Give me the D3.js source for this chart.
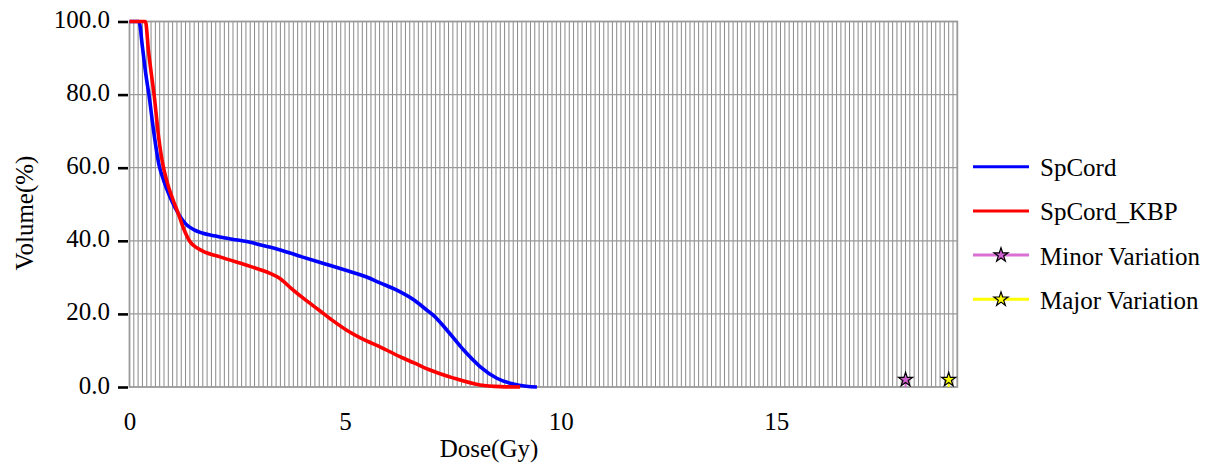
<!DOCTYPE html>
<html>
<head>
<meta charset="utf-8">
<script src="https://cdn.jsdelivr.net/npm/d3@7"></script>
<style>
  html, body { margin: 0; padding: 0; background: #fff; }
  svg { display: block; }
  svg text { font-family: "Liberation Serif", "Times New Roman", Times, serif !important; fill: #000; }
</style>
</head>
<body>
<svg id="chart" width="1224" height="470" font-family="Liberation Serif"></svg>
<script>
// ---- data ----
const seriesNames = ["SpCord", "SpCord_KBP", "Minor Variation", "Major Variation"];
const seriesColors = ["#0000ff", "#ff0000", "#da70d6", "#ffff00"];

const spCordDose = [0, 0.22, 0.3, 0.38, 0.45, 0.56, 0.68, 0.79, 0.94, 1.13, 1.33, 1.5, 2.0, 2.5, 2.8, 3.0, 3.5, 4.0, 4.5, 5.0, 5.5, 5.81, 6.2, 6.6, 6.9, 7.05, 7.36, 7.75, 8.13, 8.52, 8.9, 9.2, 9.45];
const spCordVol  = [100, 100, 93, 85.4, 80, 70, 61, 56.6, 52, 47.5, 44.3, 43, 41.3, 40.2, 39.6, 39.0, 37.5, 35.6, 33.8, 32.0, 30.1, 28.5, 26.5, 23.8, 21, 19.6, 15.6, 10.1, 5.6, 2.4, 0.8, 0.2, 0];

const kbpDose = [0, 0.37, 0.44, 0.51, 0.57, 0.68, 0.78, 0.86, 1.0, 1.13, 1.25, 1.4, 1.6, 2.1, 2.8, 3.26, 3.49, 3.75, 4.03, 4.4, 4.7, 5.03, 5.5, 5.81, 6.27, 6.6, 6.97, 7.5, 8.13, 8.6, 9.06];
const kbpVol  = [100, 100, 92, 85.4, 80, 68, 60.5, 56.6, 51.5, 47.5, 43.5, 39.8, 37.8, 35.6, 33, 31.1, 29.7, 27, 24.3, 21, 18.3, 15.6, 12.6, 11.0, 8.3, 6.6, 4.65, 2.5, 0.55, 0.1, 0];

const minorDose = [18];
const minorVol = [2];
const majorDose = [19];
const majorVol = [2];

const xTickValues = [0, 5, 10, 15];
const yTickValues = [0, 20, 40, 60, 80, 100];
const xTitle = "Dose(Gy)";
const yTitle = "Volume(%)";

// ---- layout ----
const FONT = "'Liberation Serif', 'Times New Roman', serif";
const svg = d3.select("#chart");
const x = d3.scaleLinear().domain([0, 19.2]).range([129.5, 957.3]);
const y = d3.scaleLinear().domain([0, 100]).range([387, 21.5]);
const FS = 25;

// vertical grid every 0.1 Gy
const vGrid = d3.range(1, 192).map(i => i / 10);
svg.append("g").selectAll("line").data(vGrid).join("line")
  .attr("x1", d => x(d)).attr("x2", d => x(d))
  .attr("y1", y(100)).attr("y2", y(0))
  .attr("stroke", "#8a8a8a").attr("stroke-width", 1);

// horizontal grid
svg.append("g").selectAll("line").data([20, 40, 60, 80]).join("line")
  .attr("x1", x(0)).attr("x2", x(19.2))
  .attr("y1", d => y(d)).attr("y2", d => y(d))
  .attr("stroke", "#999").attr("stroke-width", 1.2);

// frame
svg.append("rect")
  .attr("x", x(0)).attr("y", y(100))
  .attr("width", x(19.2) - x(0)).attr("height", y(0) - y(100))
  .attr("fill", "none").attr("stroke", "#999").attr("stroke-width", 1.8);

// y axis
const yAxis = svg.append("g").attr("transform", "translate(128,0)")
  .call(d3.axisLeft(y).tickValues(yTickValues).tickFormat(d3.format(".1f")).tickSize(10).tickPadding(8))
  .attr("font-family", FONT).attr("font-size", FS);
yAxis.select(".domain").remove();
yAxis.selectAll(".tick line").attr("stroke", "#000").attr("stroke-width", 2.6);
yAxis.selectAll(".tick text").attr("dy", "0.24em");

// x axis
const xAxis = svg.append("g").attr("transform", `translate(0,${y(0)})`)
  .call(d3.axisBottom(x).tickValues(xTickValues).tickFormat(d3.format("d")).tickSize(0).tickPadding(25))
  .attr("font-family", FONT).attr("font-size", FS);
xAxis.select(".domain").remove();

// axis titles
svg.append("text").attr("x", 489).attr("y", 457).attr("text-anchor", "middle")
  .attr("font-family", FONT).attr("font-size", FS).text(xTitle);
svg.append("text").attr("transform", "translate(33,213) rotate(-90)").attr("text-anchor", "middle")
  .attr("font-family", FONT).attr("font-size", FS).text(yTitle);

// curves
const line = d3.line().x(d => x(d[0])).y(d => y(d[1])).curve(d3.curveMonotoneX);
const spCord = spCordDose.map((d, i) => [d, spCordVol[i]]);
const kbp = kbpDose.map((d, i) => [d, kbpVol[i]]);

svg.append("path").datum(spCord).attr("d", line)
  .attr("fill", "none").attr("stroke", seriesColors[0]).attr("stroke-width", 3.6).attr("stroke-linejoin", "round");
svg.append("path").datum(kbp).attr("d", line)
  .attr("fill", "none").attr("stroke", seriesColors[1]).attr("stroke-width", 3.6).attr("stroke-linejoin", "round");

// variation markers
const star = d3.symbol().type(d3.symbolStar).size(62);
function drawMarkers(doses, vols, color) {
  doses.forEach((d, i) => {
    svg.append("line").attr("x1", x(d)).attr("x2", x(d)).attr("y1", y(0)).attr("y2", y(vols[i]))
      .attr("stroke", color).attr("stroke-width", 2);
    svg.append("path").attr("d", star)
      .attr("transform", `translate(${x(d)},${y(vols[i])})`)
      .attr("fill", color).attr("stroke", "#000").attr("stroke-width", 1.2);
  });
}
drawMarkers(minorDose, minorVol, "#d060d0");
drawMarkers(majorDose, majorVol, seriesColors[3]);

// legend
const legend = svg.append("g").attr("font-family", FONT);
const legY0 = 166.7, legDY = 44.2;
seriesNames.forEach((name, i) => {
  const ly = legY0 + i * legDY;
  legend.append("line").attr("x1", 973).attr("x2", 1029).attr("y1", ly).attr("y2", ly)
    .attr("stroke", seriesColors[i]).attr("stroke-width", 3);
  if (i >= 2) {
    legend.append("path").attr("d", star)
      .attr("transform", `translate(1001,${ly})`)
      .attr("fill", i === 2 ? "#d060d0" : seriesColors[i]).attr("stroke", "#000").attr("stroke-width", 1.2);
  }
  legend.append("text").attr("x", 1040).attr("y", ly + 9.5).attr("font-size", FS)
    .attr("font-family", FONT).text(name);
});
</script>
</body>
</html>
